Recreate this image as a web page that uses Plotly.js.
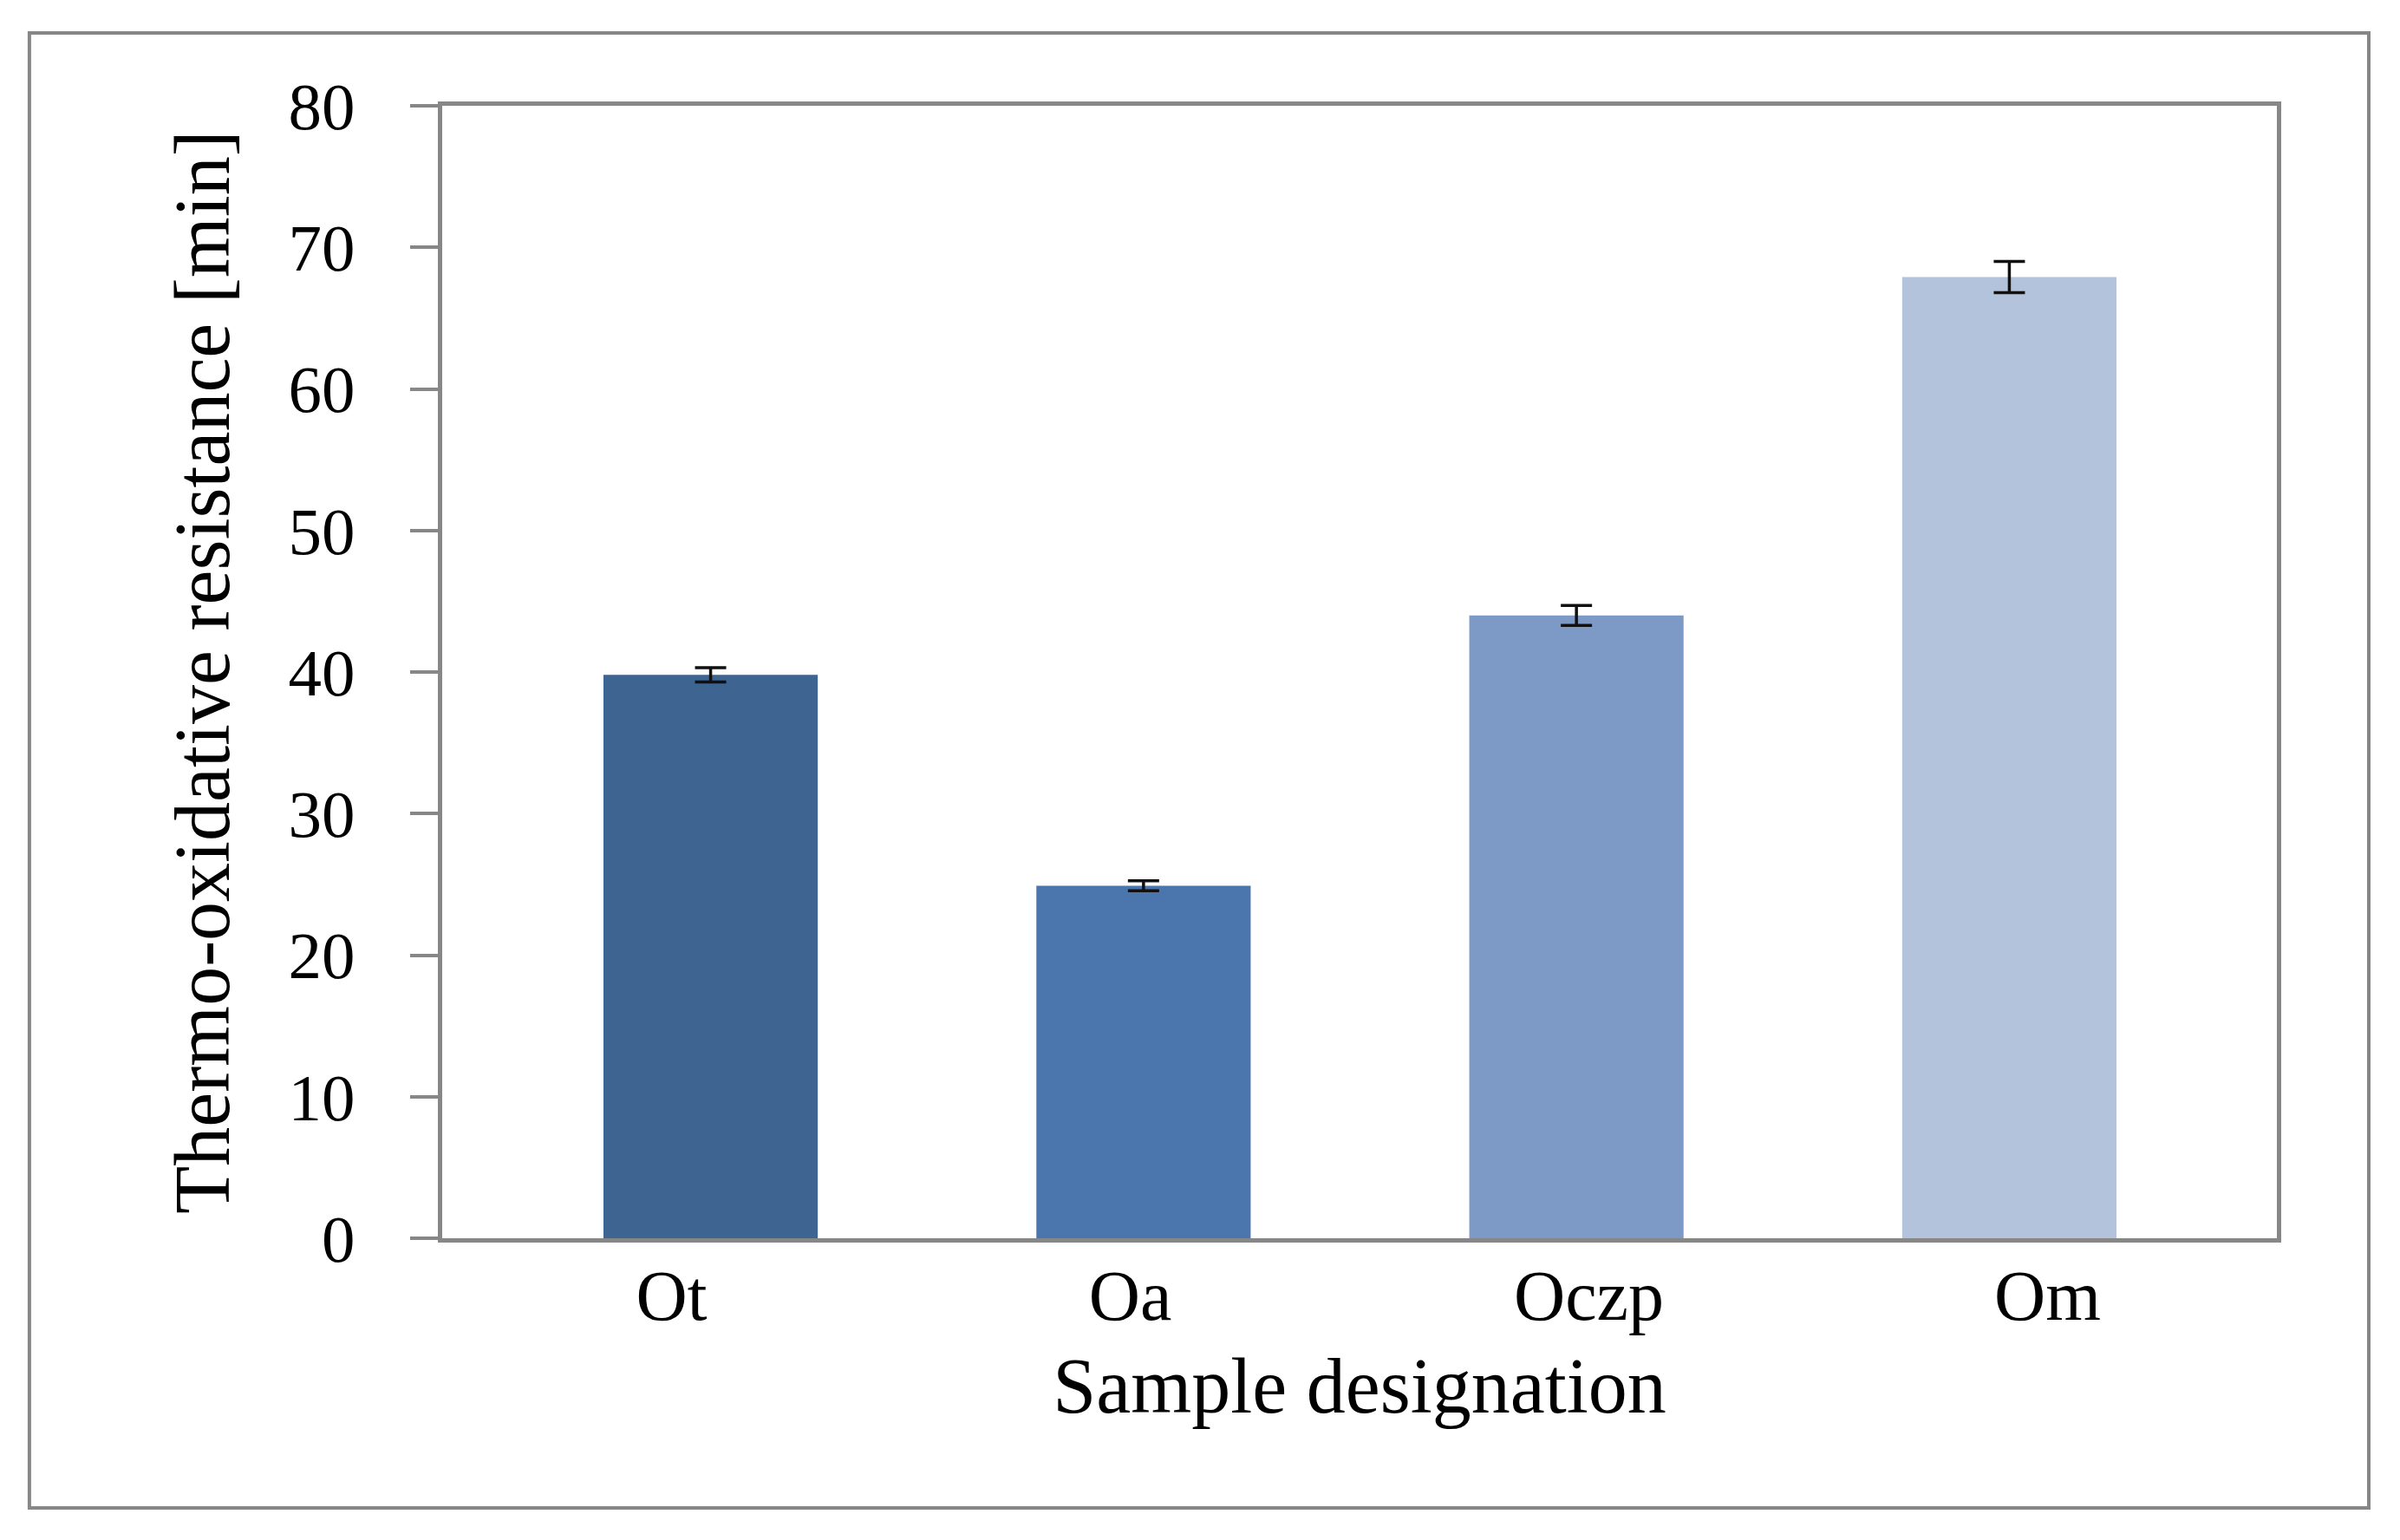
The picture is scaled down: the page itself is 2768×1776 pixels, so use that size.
<!DOCTYPE html>
<html>
<head>
<meta charset="utf-8">
<script src="https://cdn.plot.ly/plotly-3.0.1.min.js"></script>
<style>
html, body { margin: 0; padding: 0; background: #ffffff; }
#chart { width: 2768px; height: 1776px; }
</style>
</head>
<body>
<div id="chart"></div>
<script>
// Data
const categories = ["Ot", "Oa", "Oczp", "Om"];
const resistance = [39.8, 24.9, 44.0, 67.9];
const errors = [0.5, 0.35, 0.7, 1.1];
const barColors = ["#3e6592", "#4a76ad", "#7d9ac6", "#b3c3dc"];
const yTicks = [0, 10, 20, 30, 40, 50, 60, 70, 80];

const FONT = "Liberation Serif, Times New Roman, serif";
const GRAY = "#878787";

const bars = {
  type: "bar",
  x: categories,
  y: resistance,
  xaxis: "x",
  yaxis: "y",
  width: 0.495,
  marker: { color: barColors, line: { width: 0 } },
  error_y: {
    type: "data",
    array: errors,
    visible: true,
    color: "#111111",
    thickness: 3.5,
    width: 18
  },
  hoverinfo: "x+y",
  showlegend: false
};

// invisible helper trace carrying the category labels on the label axis
const labels = {
  type: "scatter",
  mode: "markers",
  x: categories,
  y: resistance,
  xaxis: "x2",
  yaxis: "y",
  marker: { opacity: 0, size: 1 },
  hoverinfo: "skip",
  showlegend: false
};

const layout = {
  width: 2768,
  height: 1776,
  paper_bgcolor: "#ffffff",
  plot_bgcolor: "#ffffff",
  margin: { l: 510, r: 142, t: 122, b: 348 },
  font: { family: FONT, color: "#000000" },
  bargap: 0.5,
  xaxis: {
    type: "category",
    categoryarray: categories,
    range: [-0.62, 3.618],
    showticklabels: false,
    ticks: "",
    showgrid: false,
    zeroline: false,
    showline: true,
    linecolor: GRAY,
    linewidth: 5,
    mirror: true,
    fixedrange: true
  },
  xaxis2: {
    type: "category",
    categoryarray: categories,
    overlaying: "x",
    side: "bottom",
    range: [-0.5, 3.5],
    showline: false,
    showgrid: false,
    zeroline: false,
    ticks: "",
    tickfont: { family: FONT, size: 82, color: "#000000" },
    ticklabelstandoff: 11,
    title: {
      text: "Sample designation",
      font: { family: FONT, size: 90, color: "#000000" },
      standoff: 26
    }
  },
  yaxis: {
    range: [0, 80],
    tickvals: yTicks,
    ticktext: yTicks.map(String),
    ticks: "outside",
    ticklen: 32,
    tickwidth: 4,
    tickcolor: GRAY,
    tickfont: { family: FONT, size: 77, color: "#000000" },
    ticklabelstandoff: 48,
    showgrid: false,
    zeroline: false,
    showline: true,
    linecolor: GRAY,
    linewidth: 5,
    mirror: true,
    title: {
      text: "Thermo-oxidative resistance [min]",
      font: { family: FONT, size: 90, color: "#000000" },
      standoff: 40
    }
  },
  shapes: [
    {
      type: "rect",
      xref: "paper",
      yref: "paper",
      x0: -0.2250, x1: 1.0501,
      y0: -0.2381, y1: 1.0643,
      line: { color: GRAY, width: 4 },
      fillcolor: "rgba(0,0,0,0)",
      layer: "below"
    }
  ]
};

Plotly.newPlot("chart", [bars, labels], layout, { displayModeBar: false, staticPlot: true });
</script>
</body>
</html>
